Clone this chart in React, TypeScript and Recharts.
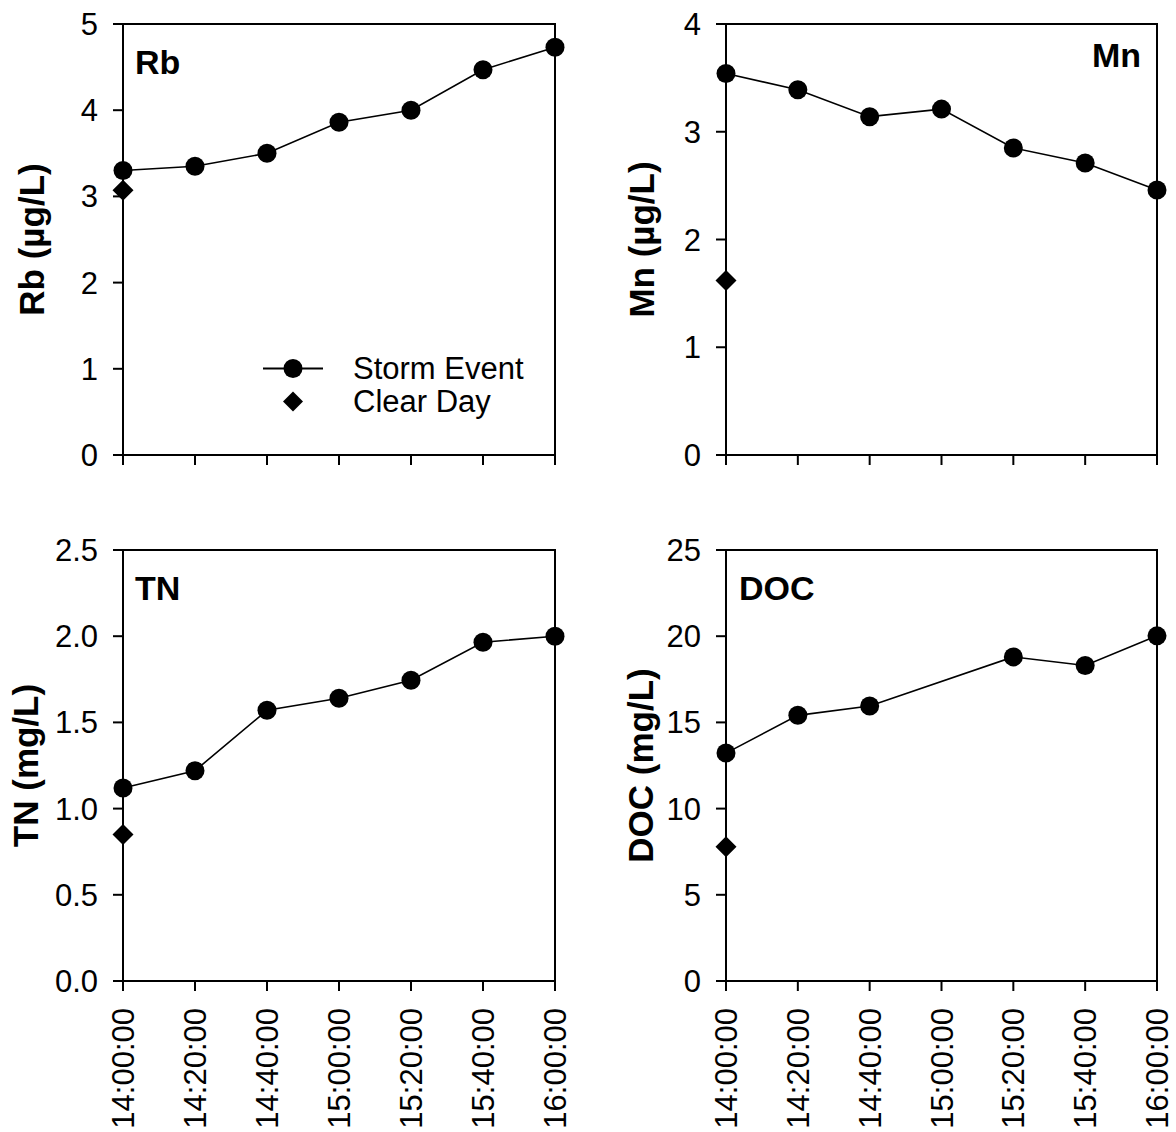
import React from 'react';
import { LineChart, Line, XAxis, YAxis, ReferenceArea, Legend } from 'recharts';

const FONT = '"Liberation Sans", Arial, Helvetica, sans-serif';

// sampling times along the storm hydrograph
const times = ['14:00:00', '14:20:00', '14:40:00', '15:00:00', '15:20:00', '15:40:00', '16:00:00'];

// storm event concentrations (DOC was not sampled at 15:00)
const rbStorm = [3.3, 3.35, 3.5, 3.86, 4.0, 4.47, 4.73];
const mnStorm = [3.54, 3.39, 3.14, 3.21, 2.85, 2.71, 2.46];
const tnStorm = [1.12, 1.22, 1.57, 1.64, 1.745, 1.965, 2.0];
const docStorm = [13.22, 15.41, 15.95, null, 18.8, 18.3, 20.02];

// clear day reference samples, taken at 14:00
const rbClear = 3.07;
const mnClear = 1.62;
const tnClear = 0.85;
const docClear = 7.79;

const rbTicks = [0, 1, 2, 3, 4, 5];
const mnTicks = [0, 1, 2, 3, 4];
const tnTicks = [0, 0.5, 1.0, 1.5, 2.0, 2.5];
const docTicks = [0, 5, 10, 15, 20, 25];

const TICK_FONT = 31;

const buildRows = (storm: (number | null)[], clear: number) =>
  times.map((time, i) => ({ time, storm: storm[i], clear: i === 0 ? clear : null }));

const diamond = (cx: number, cy: number, h: number) =>
  `M${cx},${cy - h} L${cx + h},${cy} L${cx},${cy + h} L${cx - h},${cy} Z`;

const renderDiamond = (props: any) => {
  const { cx, cy, value, index } = props;
  if (value == null || cx == null || cy == null) return <g key={`cd-${index}`} />;
  return <path key={`cd-${index}`} d={diamond(cx, cy, 10.5)} fill="#000" />;
};

const TimeTick = ({ x, y, payload }: any) => (
  <text
    x={x}
    y={y}
    transform={`rotate(-90, ${x}, ${y})`}
    textAnchor="end"
    dy="0.36em"
    fontSize={TICK_FONT}
    fontFamily={FONT}
    fill="#000"
  >
    {payload.value}
  </text>
);

// top row keeps its tick marks but shows no time labels
const NoTick = () => <g />;

const renderLegend = (props: any) => (
  <div style={{ fontFamily: FONT, fontSize: 31, lineHeight: '33px', color: '#000' }}>
    {(props.payload ?? []).map((entry: any, i: number) => (
      <div key={i} style={{ display: 'flex', alignItems: 'center', height: 33 }}>
        <svg width={60} height={33} style={{ display: 'block' }}>
          {entry.dataKey === 'storm' ? (
            <>
              <line x1={0} y1={16.5} x2={60} y2={16.5} stroke="#000" strokeWidth={2} />
              <circle cx={30} cy={16.5} r={9.5} fill="#000" />
            </>
          ) : (
            <path d={diamond(30, 16.5, 10)} fill="#000" />
          )}
        </svg>
        <span style={{ marginLeft: 30, whiteSpace: 'nowrap' }}>{entry.value}</span>
      </div>
    ))}
  </div>
);

type PanelProps = {
  tag: string;
  title: string;
  storm: (number | null)[];
  clear: number;
  ticks: number[];
  decimals: number;
  left: number;
  top: number;
  width: number;
  height: number;
  plotX: number;
  plotY: number;
  plotW: number;
  plotH: number;
  titleX: number;
  tagX: number;
  tagY: number;
  tagAnchor: 'start' | 'end';
  showTimes: boolean;
  legend?: boolean;
};

const AXIS_W = 100;
const AXIS_H = 30;
const axisStroke = { stroke: '#000', strokeWidth: 2 };

function Panel(p: PanelProps) {
  const data = buildRows(p.storm, p.clear);
  const yMax = p.ticks[p.ticks.length - 1];
  const margin = {
    top: p.plotY - p.top,
    left: p.plotX - p.left - AXIS_W,
    right: p.left + p.width - (p.plotX + p.plotW),
    bottom: p.top + p.height - (p.plotY + p.plotH) - AXIS_H,
  };
  const titleX = p.titleX - p.left;
  const titleY = p.plotY - p.top + p.plotH / 2;

  return (
    <div style={{ position: 'absolute', left: p.left, top: p.top }}>
      <LineChart width={p.width} height={p.height} data={data} margin={margin}>
        <XAxis
          dataKey="time"
          interval={0}
          height={AXIS_H}
          axisLine={axisStroke}
          tickLine={axisStroke}
          tickSize={10}
          tickMargin={17}
          tick={p.showTimes ? <TimeTick /> : <NoTick />}
        />
        <YAxis
          type="number"
          domain={[0, yMax]}
          ticks={p.ticks}
          interval={0}
          width={AXIS_W}
          axisLine={axisStroke}
          tickLine={axisStroke}
          tickSize={10}
          tickMargin={15}
          tickFormatter={(v: number) => v.toFixed(p.decimals)}
          tick={{ fill: '#000', fontSize: TICK_FONT, fontFamily: FONT }}
          label={() => (
            <text
              x={titleX}
              y={titleY}
              transform={`rotate(-90, ${titleX}, ${titleY})`}
              textAnchor="middle"
              fontSize={35}
              fontWeight="bold"
              fontFamily={FONT}
              fill="#000"
            >
              {p.title}
            </text>
          )}
        />
        <ReferenceArea
          x1={times[0]}
          x2={times[times.length - 1]}
          y1={0}
          y2={yMax}
          fill="none"
          fillOpacity={0}
          stroke="#000"
          strokeWidth={2}
          label={() => (
            <text
              x={p.tagX - p.left}
              y={p.tagY - p.top}
              textAnchor={p.tagAnchor}
              fontSize={34}
              fontWeight="bold"
              fontFamily={FONT}
              fill="#000"
            >
              {p.tag}
            </text>
          )}
        />
        <Line
          dataKey="clear"
          name="Clear Day"
          stroke="none"
          dot={renderDiamond}
          activeDot={false}
          legendType="diamond"
          isAnimationActive={false}
        />
        <Line
          dataKey="storm"
          name="Storm Event"
          stroke="#000"
          strokeWidth={1.6}
          connectNulls
          dot={{ r: 9.5, fill: '#000', stroke: '#000', strokeWidth: 0 }}
          activeDot={false}
          isAnimationActive={false}
        />
        {p.legend && (
          <Legend
            layout="vertical"
            align="center"
            verticalAlign="middle"
            itemSorter={(item: any) => (item.dataKey === 'storm' ? 0 : 1)}
            content={renderLegend}
            wrapperStyle={{ left: 263 - p.left, top: 352 - p.top, width: 'auto' }}
          />
        )}
      </LineChart>
    </div>
  );
}

export default function App() {
  return (
    <div
      style={{
        position: 'absolute',
        left: 0,
        top: 0,
        width: 1176,
        height: 1132,
        background: '#fff',
        overflow: 'hidden',
        fontFamily: FONT,
      }}
    >
      <Panel
        tag="Rb" title="Rb (µg/L)" storm={rbStorm} clear={rbClear} ticks={rbTicks} decimals={0}
        left={0} top={0} width={588} height={510}
        plotX={123} plotY={24} plotW={432} plotH={431}
        titleX={44} tagX={135} tagY={74} tagAnchor="start" showTimes={false} legend
      />
      <Panel
        tag="Mn" title="Mn (µg/L)" storm={mnStorm} clear={mnClear} ticks={mnTicks} decimals={0}
        left={588} top={0} width={588} height={510}
        plotX={726} plotY={24} plotW={431} plotH={431}
        titleX={654} tagX={1141} tagY={67} tagAnchor="end" showTimes={false}
      />
      <Panel
        tag="TN" title="TN (mg/L)" storm={tnStorm} clear={tnClear} ticks={tnTicks} decimals={1}
        left={0} top={510} width={588} height={622}
        plotX={123} plotY={550} plotW={432} plotH={431}
        titleX={38} tagX={135} tagY={600} tagAnchor="start" showTimes
      />
      <Panel
        tag="DOC" title="DOC (mg/L)" storm={docStorm} clear={docClear} ticks={docTicks} decimals={0}
        left={588} top={510} width={588} height={622}
        plotX={726} plotY={550} plotW={431} plotH={431}
        titleX={653} tagX={739} tagY={600} tagAnchor="start" showTimes
      />
    </div>
  );
}
